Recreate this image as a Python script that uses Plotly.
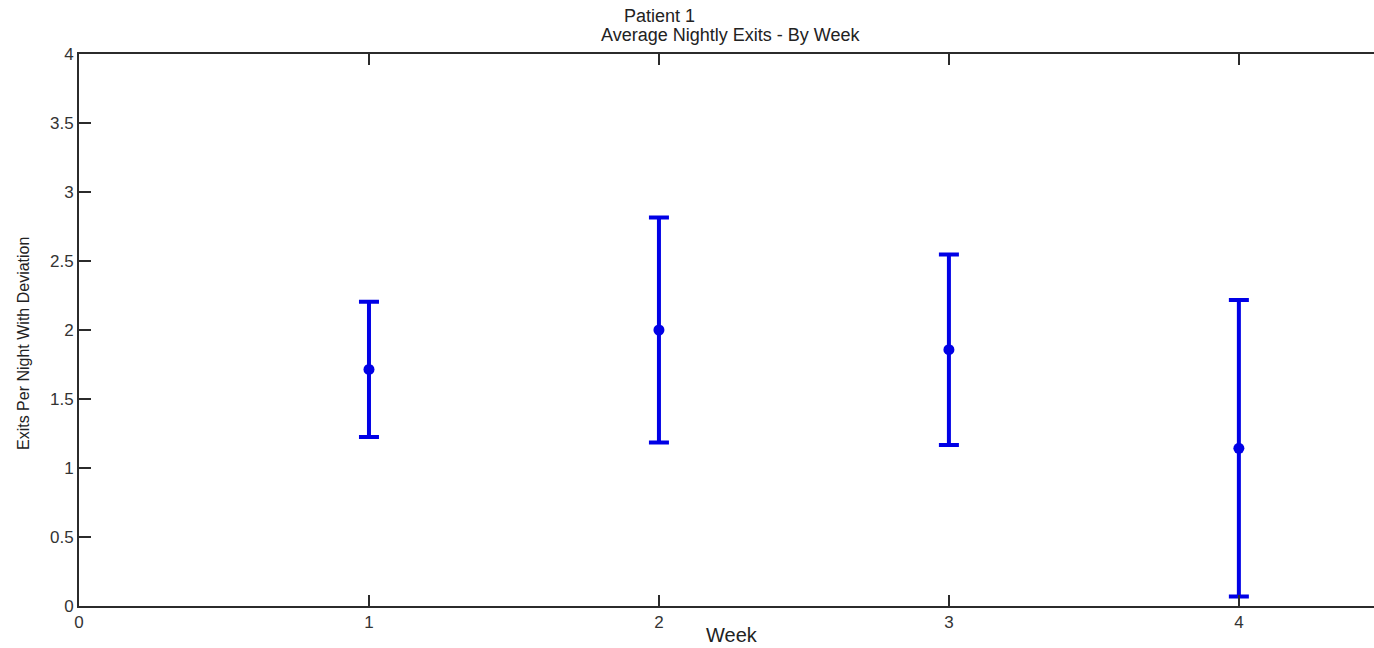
import plotly.graph_objects as go

weeks = [1, 2, 3, 4]
mean_exits = [1.714, 2.0, 1.857, 1.143]
std_exits = [0.49, 0.816, 0.69, 1.075]
x_ticks = [0, 1, 2, 3, 4]
y_ticks = [0, 0.5, 1, 1.5, 2, 2.5, 3, 3.5, 4]
y_labels = ["0", "0.5", "1", "1.5", "2", "2.5", "3", "3.5", "4"]

BLUE = "#0000e6"
AX = "#2b2b2b"
FONT = "Liberation Sans, Arial, sans-serif"

L, T, B = 79, 54, 42
W, H = 1374, 648
W_plot = W - L
H_plot = H - T - B

fig = go.Figure()
fig.add_trace(go.Scatter(
    x=weeks, y=mean_exits, mode="markers",
    marker=dict(color=BLUE, size=11, symbol="circle"),
    error_y=dict(type="data", array=std_exits, visible=True,
                 color=BLUE, thickness=4, width=10),
    showlegend=False,
))

axis_common = dict(showgrid=False, zeroline=False, ticks="inside", tickwidth=2, tickcolor=AX)

fig.update_layout(
    width=W, height=H,
    margin=dict(l=L, r=0, t=T, b=B),
    paper_bgcolor="white", plot_bgcolor="white",
    font=dict(family=FONT, color="#333", size=17),
    xaxis=dict(range=[0, 4.466], tickvals=x_ticks, ticktext=[str(v) for v in x_ticks],
               showline=True, linecolor=AX, linewidth=2, mirror="ticks", ticklen=11,
               tickfont=dict(size=17, color="#333"), **axis_common),
    yaxis=dict(range=[0, 4], tickvals=y_ticks, ticktext=y_labels,
               showline=True, linecolor=AX, linewidth=2, mirror=False, ticklen=12,
               tickfont=dict(size=17, color="#333"), **axis_common),
    yaxis2=dict(range=[0, 4], tickvals=y_ticks, overlaying="y", side="right",
                showline=False, showticklabels=False, ticklen=12, **axis_common),
)

def px_ann(text, px, py, size, angle=0):
    fig.add_annotation(text=text, xref="paper", yref="paper",
                       x=(px - L) / W_plot, y=(H - B - py) / H_plot,
                       xanchor="center", yanchor="middle", showarrow=False,
                       textangle=angle, font=dict(size=size, color="#222", family=FONT))

px_ann("Patient 1", 659, 16, 18)
px_ann("Average Nightly Exits - By Week", 731, 35, 18)
px_ann("Week", 732, 635, 20)
px_ann("Exits Per Night With Deviation", 23, 344, 16, angle=-90)

fig.write_html("out.html")
